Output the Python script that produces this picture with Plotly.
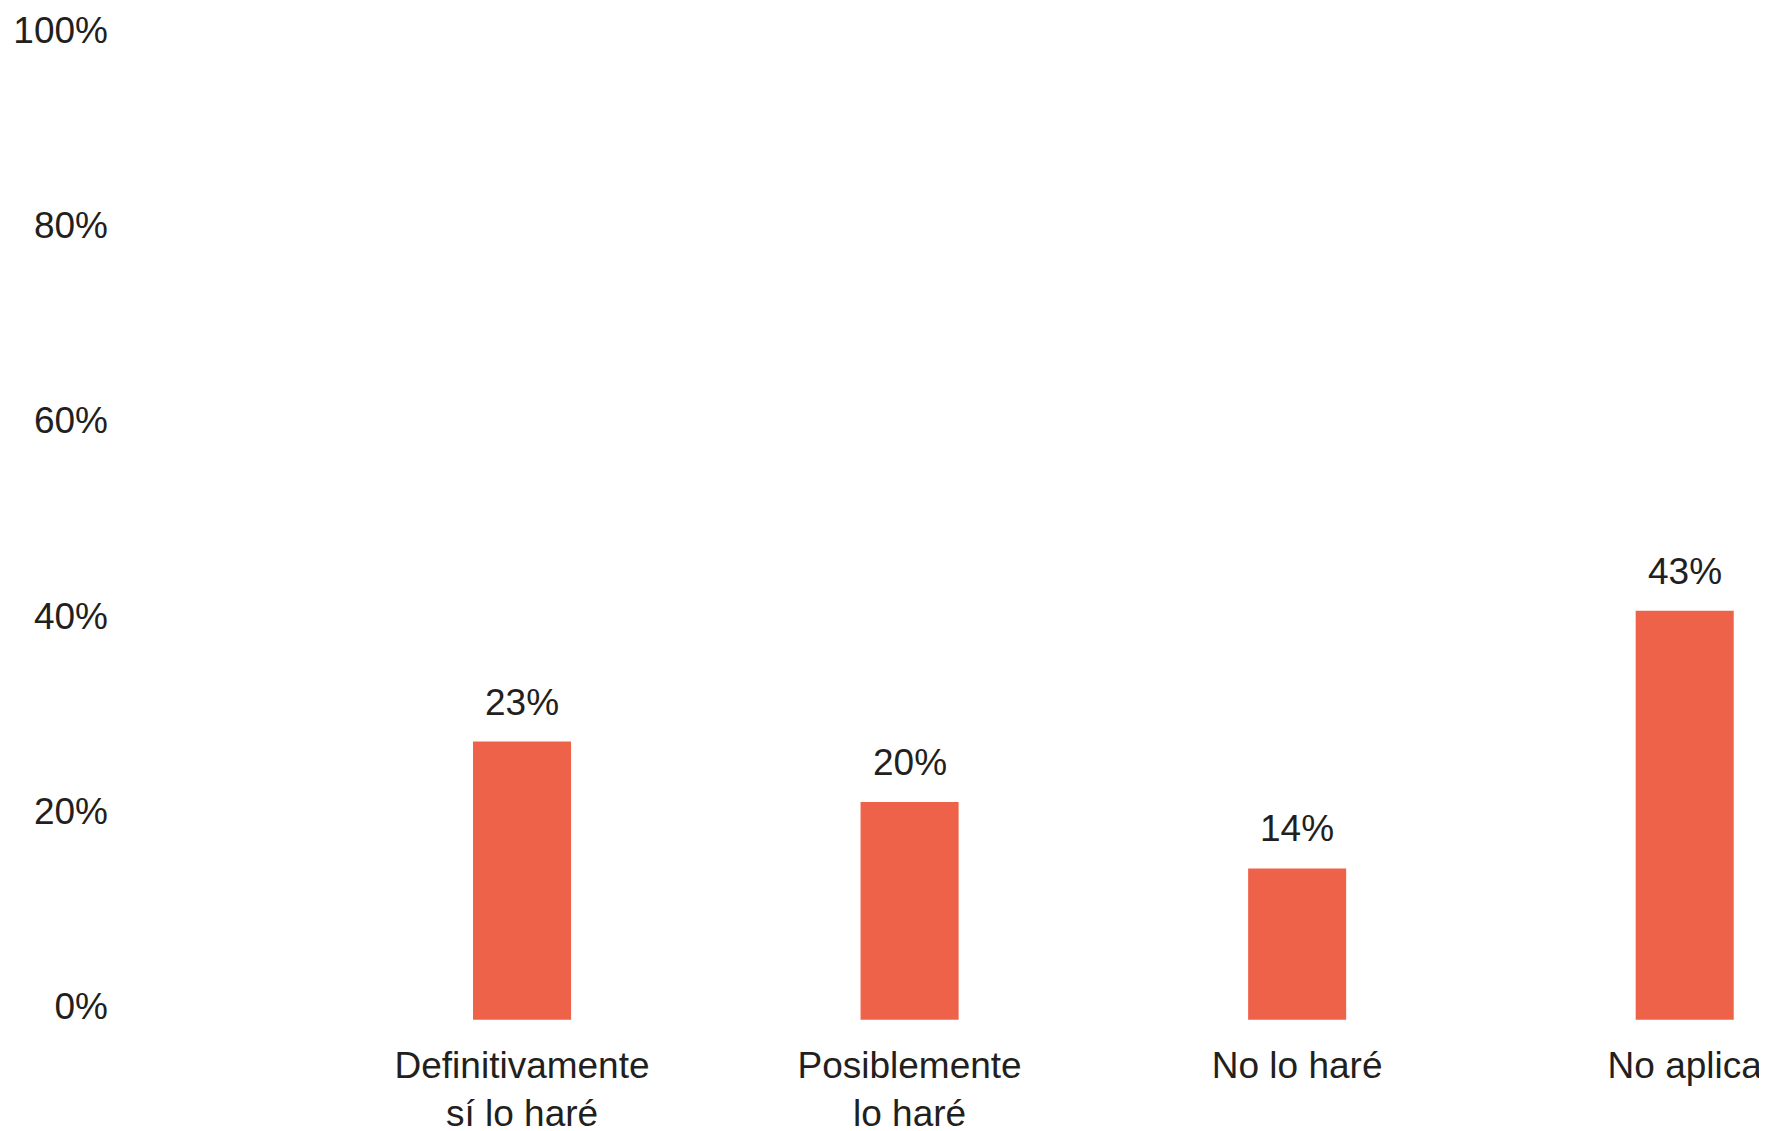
import plotly.graph_objects as go

categories = ["Definitivamente<br>sí lo haré", "Posiblemente<br>lo haré", "No lo haré", "No aplica"]
bar_tops = [27.1, 20.9, 14.1, 40.5]          # bar heights as drawn (read against the axis)
value_labels = ["23%", "20%", "14%", "43%"]  # printed labels
bar_base = -1.4
y_ticks = [0, 20, 40, 60, 80, 100]
y_tick_text = ["0%", "20%", "40%", "60%", "80%", "100%"]

BAR_COLOR = "#EF624A"
TEXT_COLOR = "#231F20"
FONT = "Liberation Sans, Arial, sans-serif"

fig = go.Figure()
fig.add_trace(go.Bar(
    x=categories,
    y=[t - bar_base for t in bar_tops],
    base=bar_base,
    width=0.253,
    marker=dict(color=BAR_COLOR, line=dict(width=0)),
    hoverinfo="skip",
))

for c, t, lab in zip(categories, bar_tops, value_labels):
    fig.add_annotation(x=c, y=t, text=lab, showarrow=False, yanchor="bottom",
                       yshift=17, font=dict(family=FONT, size=37, color=TEXT_COLOR))

fig.update_layout(
    width=1767, height=1131,
    margin=dict(l=104, r=0, t=2, b=119, pad=0),
    paper_bgcolor="white", plot_bgcolor="white",
    showlegend=False,
    font=dict(family=FONT, size=37, color=TEXT_COLOR),
    xaxis=dict(type="category", range=[-1.058, 3.233], showgrid=False, zeroline=False,
               showline=False, ticks="", ticklabelstandoff=20,
               tickfont=dict(family=FONT, size=37, color=TEXT_COLOR)),
    yaxis=dict(range=[-1.43, 102.05], tickvals=y_ticks, ticktext=y_tick_text,
               showgrid=False, zeroline=False, showline=False, ticks="", ticklabelstandoff=3,
               tickfont=dict(family=FONT, size=37, color=TEXT_COLOR)),
)

fig.write_html("out.html")
